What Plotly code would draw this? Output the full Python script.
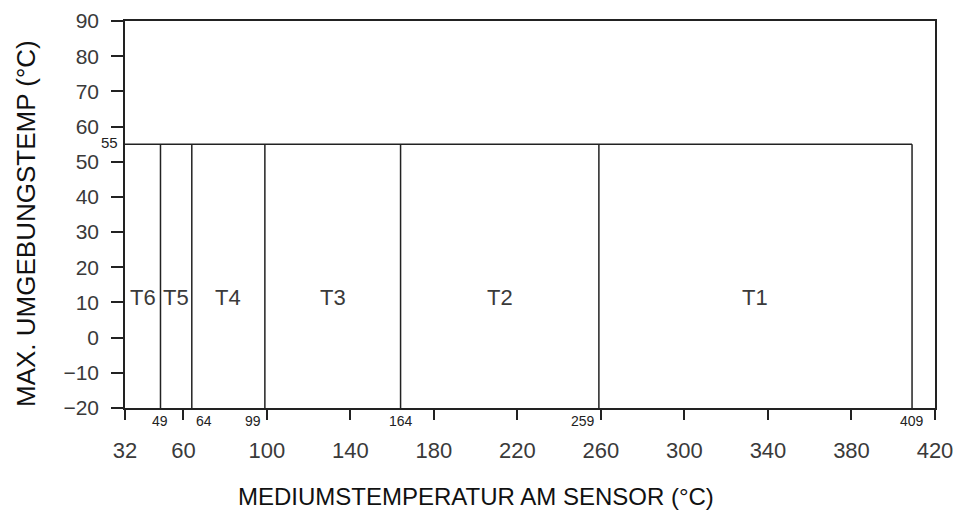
import plotly.graph_objects as go

# Data
zone_bounds = [32, 49, 64, 99, 164, 259, 409]   # medium temperature boundaries (°C)
zone_names = ["T6", "T5", "T4", "T3", "T2", "T1"]
max_ambient = 55                                # max ambient temperature (°C)
zone_label_y = 11.5
x_ticks = [32, 60, 100, 140, 180, 220, 260, 300, 340, 380, 420]
y_ticks = [-20, -10, 0, 10, 20, 30, 40, 50, 60, 70, 80, 90]
x_range = [32, 420]
y_range = [-20, 90]
x_title = "MEDIUMSTEMPERATUR AM SENSOR (°C)"
y_title = "MAX. UMGEBUNGSTEMP (°C)"

LINE = "#222222"
FONT = "Liberation Sans, Arial, sans-serif"
TXT = "#3a3a3a"

fig = go.Figure()

# horizontal limit line at 55
fig.add_trace(go.Scatter(
    x=[zone_bounds[0], zone_bounds[-1]], y=[max_ambient, max_ambient],
    mode="lines", line=dict(color=LINE, width=1.5), hoverinfo="skip", showlegend=False))

# vertical zone boundaries
vx, vy = [], []
for b in zone_bounds[1:]:
    vx += [b, b, None]
    vy += [y_range[0], max_ambient, None]
fig.add_trace(go.Scatter(
    x=vx, y=vy, mode="lines", line=dict(color=LINE, width=1.5),
    hoverinfo="skip", showlegend=False))

annotations = []
# zone labels
for i, name in enumerate(zone_names):
    xm = (zone_bounds[i] + zone_bounds[i + 1]) / 2
    annotations.append(dict(x=xm, y=zone_label_y, xref="x", yref="y", text=name,
                            showarrow=False, font=dict(family=FONT, size=22, color=TXT)))

# small boundary value labels below x-axis
align_map = {49: "center", 64: "left", 99: "right", 164: "center", 259: "right", 409: "center"}
for b in zone_bounds[1:]:
    al = align_map[b]
    xshift = {"center": 0, "left": 2, "right": -2}[al]
    annotations.append(dict(x=b, y=y_range[0], xref="x", yref="y", text=str(b),
                            showarrow=False, xanchor=al, yanchor="middle",
                            xshift=xshift, yshift=-13,
                            font=dict(family=FONT, size=14, color="#222222")))

# 55 label on y-axis
annotations.append(dict(x=x_range[0], y=max_ambient, xref="x", yref="y", text=str(max_ambient),
                        showarrow=False, xanchor="right", yanchor="middle", xshift=-5, yshift=2,
                        font=dict(family=FONT, size=15, color="#222222")))

# axis titles (placed as in the reference)
annotations.append(dict(x=476, y=497, xref="x domain", yref="y domain", text=x_title,
                        showarrow=False, xanchor="center", yanchor="middle",
                        font=dict(family=FONT, size=24, color="#111111")))
annotations.append(dict(x=26, y=224, xref="x domain", yref="y domain", text=y_title,
                        showarrow=False, xanchor="center", yanchor="middle", textangle=-90,
                        font=dict(family=FONT, size=26, color="#111111")))

# convert pixel positions of the two titles to domain fractions
L, R, T, B, W, H = 125, 22, 21, 107, 957, 515
pw, ph = W - L - R, H - T - B
for a in annotations[-2:]:
    a["x"] = (a["x"] - L) / pw
    a["y"] = 1 - (a["y"] - T) / ph

fig.update_layout(
    width=W, height=H,
    margin=dict(l=L, r=R, t=T, b=B),
    paper_bgcolor="white", plot_bgcolor="white",
    showlegend=False,
    annotations=annotations,
    xaxis=dict(
        range=x_range, tickvals=x_ticks, ticktext=[str(v) for v in x_ticks],
        ticks="outside", ticklen=10, tickwidth=1.5, tickcolor=LINE,
        showline=True, linecolor=LINE, linewidth=1.5, mirror=True,
        showgrid=False, zeroline=False, automargin=False,
        tickfont=dict(family=FONT, size=22, color=TXT),
        ticklabelstandoff=12,
    ),
    yaxis=dict(
        range=y_range, tickvals=y_ticks,
        ticktext=[str(v).replace("-", "\u2212") for v in y_ticks],
        ticks="outside", ticklen=12, tickwidth=1.5, tickcolor=LINE,
        showline=True, linecolor=LINE, linewidth=1.5, mirror=True,
        showgrid=False, zeroline=False, automargin=False,
        tickfont=dict(family=FONT, size=21, color=TXT),
        ticklabelstandoff=8,
    ),
)

fig.write_html("out.html")
